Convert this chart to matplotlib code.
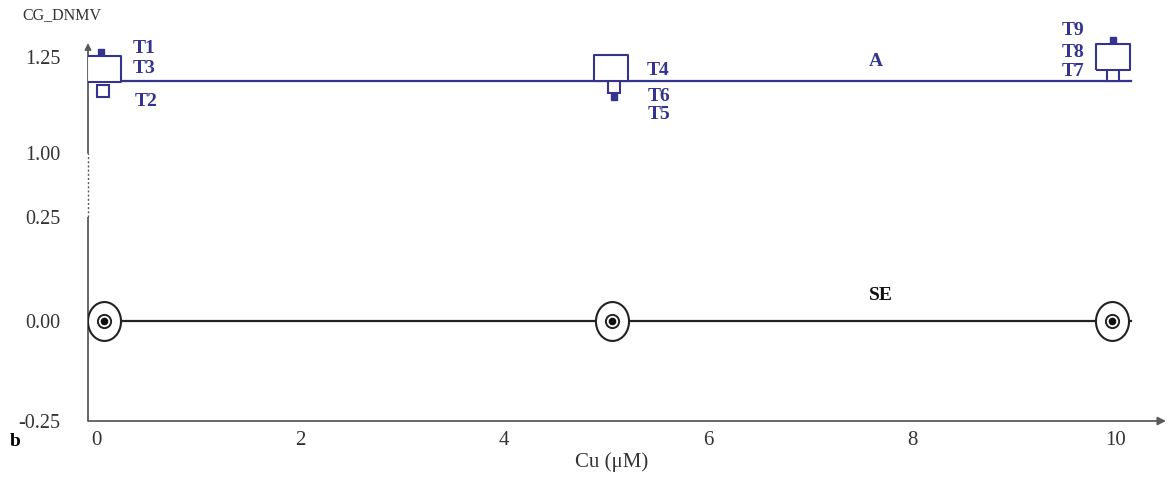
import numpy as np
import matplotlib
matplotlib.use("Agg")
import matplotlib.pyplot as plt

plt.rcParams["font.family"] = ["Liberation Serif", "DejaVu Serif"]

# ---- data ----
cu = [0.08, 5.06, 9.96]
line_a = 1.1875
se_vals = [0.0, 0.0, 0.0]

# treatment markers
t_big = {"T3": (0.08, 1.219), "T4": (5.05, 1.222), "T8": (9.97, 1.251)}
t_small_open = {"T2": (0.07, 1.161), "T6": (5.08, 1.172), "T7": (9.97, 1.203)}
t_small_fill = {"T1": (0.05, 1.262), "T5": (5.08, 1.146), "T9": (9.97, 1.294)}

# label positions for the T names
t_labels = {
    "T1": (0.36, 1.273), "T3": (0.36, 1.219), "T2": (0.38, 1.135),
    "T4": (5.40, 1.216), "T6": (5.41, 1.146), "T5": (5.41, 1.099),
    "T9": (9.47, 1.318), "T8": (9.47, 1.263), "T7": (9.47, 1.211),
}

yticks = [-0.25, 0.0, 0.25, 1.00, 1.25]
yticklabels = ["-0.25", "0.00", "0.25", "1.00", "1.25"]
xticks = [0, 2, 4, 6, 8, 10]

# broken y scale: 0.25..1.00 squeezed
brk_y = [-2.0, 0.0, 0.25, 1.0, 3.0]
brk_v = [-2.0, 0.0, 0.26, 0.42, 0.42 + 2.0 * 0.96]


def fwd(y):
    return np.interp(y, brk_y, brk_v)


def inv(v):
    return np.interp(v, brk_v, brk_y)


navy = "#34348f"
axis_c = "#5a5a5a"

# marker shapes
rect = [(-1, -0.79), (1, -0.79), (1, 0.79), (-1, 0.79), (-1, -0.79)]
th = np.linspace(0, 2 * np.pi, 60)
ellipse = list(zip(0.85 * np.cos(th), np.sin(th)))

fig = plt.figure(figsize=(11.69, 4.96), dpi=100)
ax = fig.add_axes([88 / 1169, 75 / 496, (1169 - 88) / 1169, (496 - 75 - 25) / 496])
ax.set_yscale("function", functions=(fwd, inv))
x0 = (88 - 96) / 102
ax.set_xlim(x0, x0 + (1169 - 88) / 102)
ax.set_ylim(-0.25, inv((321 - 25) / 400))

for s in ax.spines.values():
    s.set_visible(False)

# axes drawn by hand (broken y axis)
ax.vlines(x0, -0.25, 0.25, color=axis_c, lw=1.3, clip_on=False)
ax.vlines(x0, 0.25, 1.0, color=axis_c, lw=1.0, linestyles=(0, (1.5, 1.5)), clip_on=False)
ax.annotate("", xy=(x0, inv((321 - 43) / 400)), xytext=(x0, 1.0),
            arrowprops=dict(arrowstyle="-|>", color=axis_c, lw=1.3,
                            mutation_scale=9, shrinkA=0, shrinkB=0))
ax.annotate("", xy=(x0 + (1166 - 88) / 102, -0.25), xytext=(x0, -0.25),
            arrowprops=dict(arrowstyle="-|>", color=axis_c, lw=1.3,
                            mutation_scale=12, shrinkA=0, shrinkB=0))

# line A
ax.plot([x0, 10.15], [line_a, line_a], color=navy, lw=1.6, zorder=2)
ax.text(7.65, 1.237, "A", color=navy, fontweight="bold", fontsize=14,
        ha="center", va="center")

for k, (x, y) in t_small_open.items():
    ax.plot(x, y, marker="s", ms=9, mfc="white", mec=navy, mew=1.5, zorder=3)
for k, (x, y) in t_big.items():
    ax.plot(x, y, marker=rect, ms=24, mfc="white", mec=navy, mew=1.5, zorder=4)
for k, (x, y) in t_small_fill.items():
    ax.plot(x, y, marker="s", ms=5, mfc=navy, mec=navy, mew=1, zorder=5)
for k, (x, y) in t_labels.items():
    ax.text(x, y, k, color=navy, fontweight="bold", fontsize=14,
            ha="left", va="center")

# line SE
ax.plot([x0, 10.15], [0, 0], color="#222222", lw=1.6, zorder=2)
ax.plot(cu, se_vals, ls="none", marker=ellipse, ms=28, mfc="white", mec="#222222", mew=1.5, zorder=3)
ax.plot(cu, se_vals, ls="none", marker="o", ms=9.5, mfc="white", mec="#222222", mew=1.4, zorder=4)
ax.plot(cu, se_vals, ls="none", marker="o", ms=4.5, mfc="#111111", mec="#111111", zorder=5)
ax.text(7.69, 0.0625, "SE", color="#111111", fontweight="bold", fontsize=14,
        ha="center", va="center")

ax.set_yticks(yticks)
ax.set_yticklabels(yticklabels)
ax.set_xticks(xticks)
ax.tick_params(axis="y", length=0, pad=20, labelsize=14.5, labelcolor="#333333")
ax.tick_params(axis="x", length=0, pad=7, labelsize=15, labelcolor="#333333")
ax.minorticks_off()

ax.set_xlabel("Cu (μM)", fontsize=15, color="#333333")
ax.xaxis.set_label_coords(612 / 1169, 1 - 452 / 496, transform=fig.transFigure)

fig.text(22 / 1169, 1 - 15 / 496, "CG_DNMV", fontsize=11.5, color="#333333",
         ha="left", va="center")
fig.text(10 / 1169, 1 - 442 / 496, "b", fontsize=14, fontweight="bold",
         ha="left", va="center")

fig.savefig("out.png", dpi=100)
